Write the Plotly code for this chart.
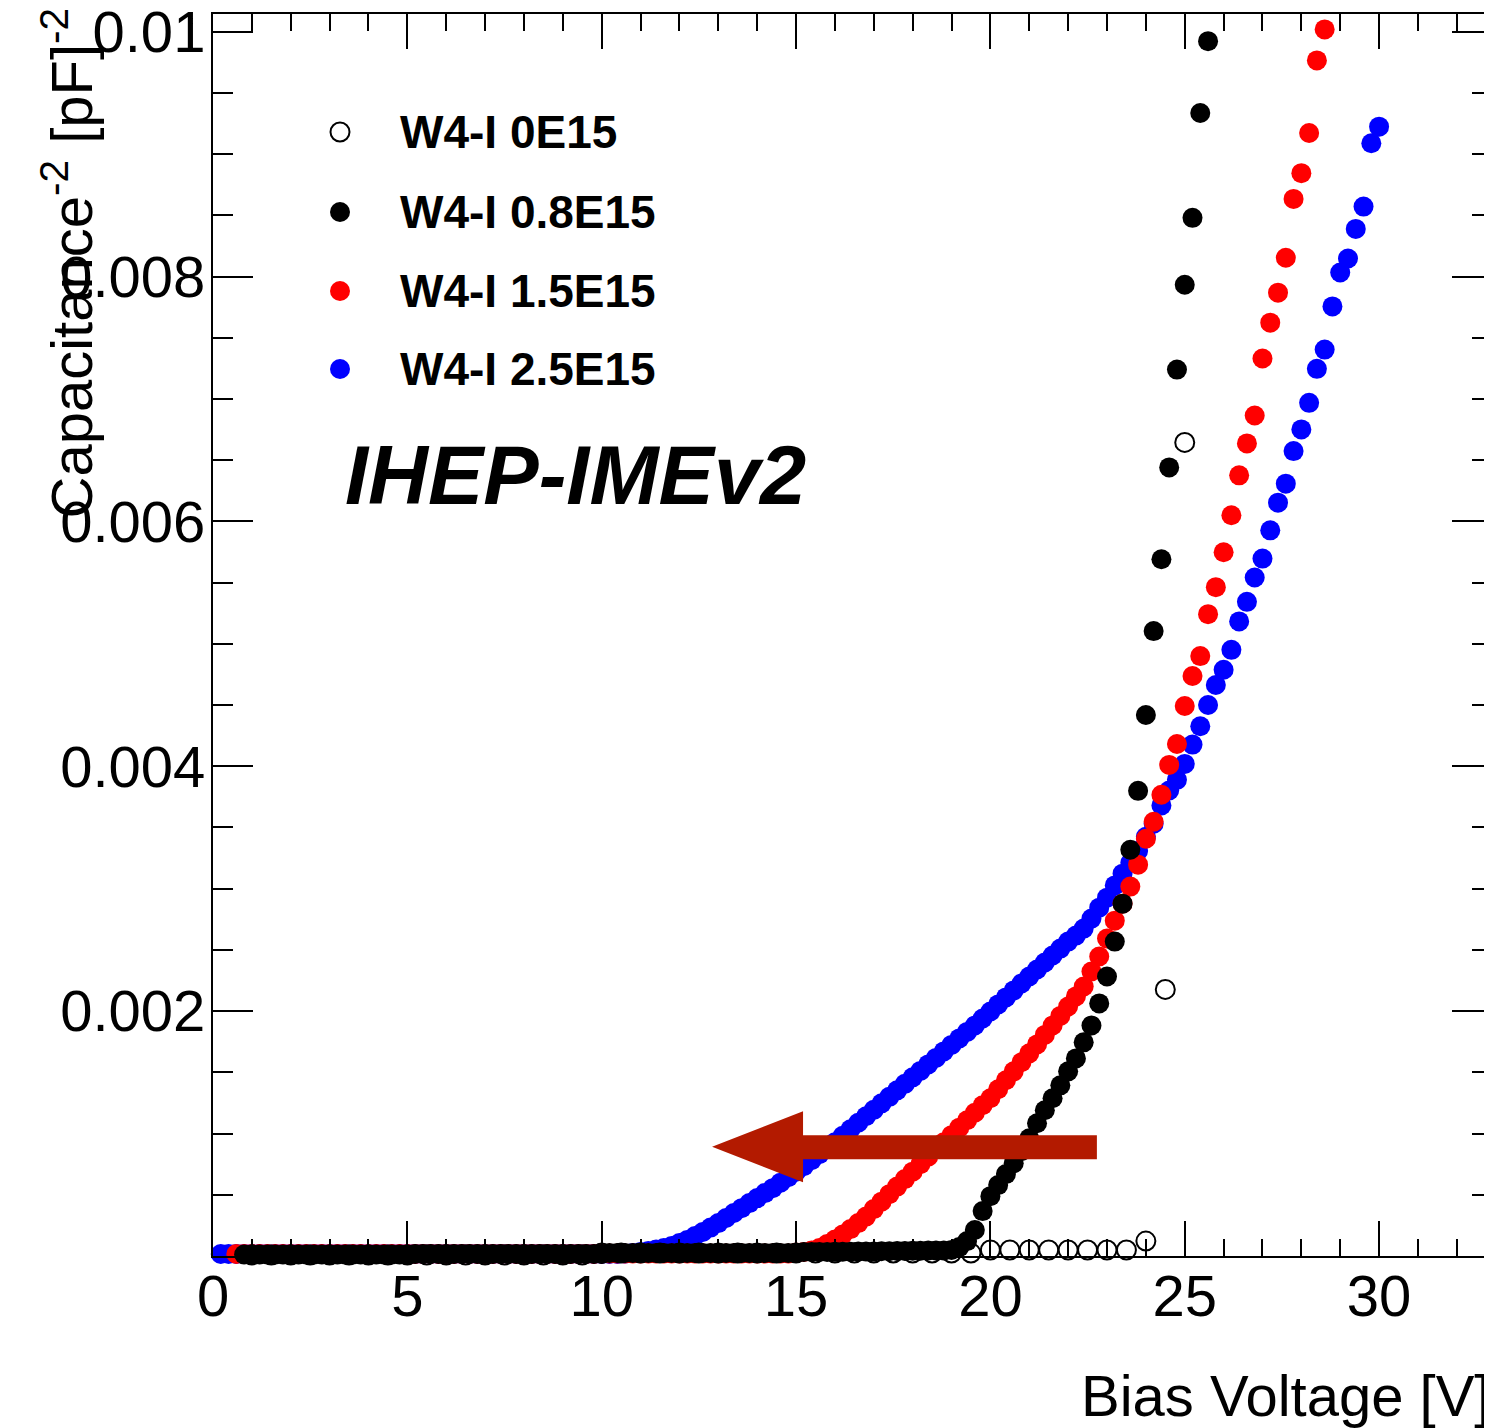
import plotly.graph_objects as go

# ---------------- data ----------------
series_names = ["W4-I 0E15", "W4-I 0.8E15", "W4-I 1.5E15", "W4-I 2.5E15"]

# W4-I 0E15 (open circles), 0.5 V steps
v_0E15 = [1.0, 1.5, 2.0, 2.5, 3.0, 3.5, 4.0, 4.5, 5.0, 5.5,
          6.0, 6.5, 7.0, 7.5, 8.0, 8.5, 9.0, 9.5, 10.0, 10.5,
          11.0, 11.5, 12.0, 12.5, 13.0, 13.5, 14.0, 14.5, 15.0, 15.5,
          16.0, 16.5, 17.0, 17.5, 18.0, 18.5, 19.0, 19.5, 20.0, 20.5,
          21.0, 21.5, 22.0, 22.5, 23.0, 23.5, 24.0, 24.5, 25.0]
c_0E15 = [8e-6, 8e-6, 8e-6, 8e-6, 8e-6, 8e-6, 8e-6, 8e-6, 8e-6, 8e-6,
          8e-6, 8e-6, 8e-6, 8e-6, 8e-6, 8e-6, 8e-6, 8e-6, 2.4e-5, 2.4e-5,
          2.4e-5, 2.4e-5, 2.4e-5, 2.4e-5, 2.4e-5, 2.4e-5, 2.4e-5, 2.4e-5, 2.4e-5, 2.4e-5,
          2.4e-5, 2.4e-5, 2.4e-5, 2.4e-5, 2.4e-5, 2.4e-5, 2.4e-5, 2.4e-5, 4.9e-5, 4.9e-5,
          4.9e-5, 4.9e-5, 4.9e-5, 4.9e-5, 4.9e-5, 4.9e-5, 1.22e-4, 2.177e-3, 6.645e-3]

# W4-I 0.8E15 (black), 0.2 V steps
v_08E15 = [0.8, 1.0, 1.2, 1.4, 1.6, 1.8, 2.0, 2.2, 2.4, 2.6,
           2.8, 3.0, 3.2, 3.4, 3.6, 3.8, 4.0, 4.2, 4.4, 4.6,
           4.8, 5.0, 5.2, 5.4, 5.6, 5.8, 6.0, 6.2, 6.4, 6.6,
           6.8, 7.0, 7.2, 7.4, 7.6, 7.8, 8.0, 8.2, 8.4, 8.6,
           8.8, 9.0, 9.2, 9.4, 9.6, 9.8, 10.0, 10.2, 10.4, 10.6,
           10.8, 11.0, 11.2, 11.4, 11.6, 11.8, 12.0, 12.2, 12.4, 12.6,
           12.8, 13.0, 13.2, 13.4, 13.6, 13.8, 14.0, 14.2, 14.4, 14.6,
           14.8, 15.0, 15.2, 15.4, 15.6, 15.8, 16.0, 16.2, 16.4, 16.6,
           16.8, 17.0, 17.2, 17.4, 17.6, 17.8, 18.0, 18.2, 18.4, 18.6,
           18.8, 19.0, 19.2, 19.4, 19.6, 19.8, 20.0, 20.2, 20.4, 20.6,
           20.8, 21.0, 21.2, 21.4, 21.6, 21.8, 22.0, 22.2, 22.4, 22.6,
           22.8, 23.0, 23.2, 23.4, 23.6, 23.8, 24.0, 24.2, 24.4, 24.6,
           24.8, 25.0, 25.2, 25.4, 25.6]
c_08E15 = [1.2e-5, 1.2e-5, 1.2e-5, 1.2e-5, 1.2e-5, 1.2e-5, 1.2e-5, 1.2e-5, 1.2e-5, 1.2e-5,
           1.2e-5, 1.2e-5, 1.2e-5, 1.2e-5, 1.2e-5, 1.2e-5, 1.2e-5, 1.2e-5, 1.2e-5, 1.2e-5,
           1.2e-5, 1.2e-5, 1.6e-5, 1.6e-5, 1.6e-5, 1.6e-5, 1.6e-5, 1.6e-5, 1.6e-5, 1.6e-5,
           1.6e-5, 1.6e-5, 1.6e-5, 1.6e-5, 1.6e-5, 1.6e-5, 1.6e-5, 1.6e-5, 1.6e-5, 1.6e-5,
           1.6e-5, 1.6e-5, 1.6e-5, 1.6e-5, 1.6e-5, 1.6e-5, 1.6e-5, 2.4e-5, 2.4e-5, 2.4e-5,
           2.4e-5, 2.4e-5, 2.4e-5, 2.4e-5, 2.4e-5, 2.4e-5, 2.4e-5, 2.4e-5, 2.4e-5, 2.4e-5,
           2.4e-5, 2.4e-5, 2.4e-5, 2.4e-5, 2.4e-5, 2.4e-5, 2.4e-5, 2.4e-5, 2.4e-5, 2.4e-5,
           2.4e-5, 2.4e-5, 3.3e-5, 3.3e-5, 3.3e-5, 3.3e-5, 3.5e-5, 3.5e-5, 3.5e-5, 3.7e-5,
           3.7e-5, 3.7e-5, 3.9e-5, 3.9e-5, 4.1e-5, 4.1e-5, 4.3e-5, 4.3e-5, 4.5e-5, 4.5e-5,
           4.5e-5, 4.9e-5, 7.3e-5, 1.22e-4, 2.12e-4, 3.67e-4, 4.89e-4, 5.79e-4, 6.69e-4, 7.58e-4,
           8.56e-4, 9.62e-4, 1.084e-3, 1.190e-3, 1.288e-3, 1.394e-3, 1.508e-3, 1.614e-3, 1.745e-3, 1.883e-3,
           2.063e-3, 2.283e-3, 2.568e-3, 2.878e-3, 3.318e-3, 3.799e-3, 4.419e-3, 5.104e-3, 5.691e-3, 6.441e-3,
           7.240e-3, 7.933e-3, 8.479e-3, 9.335e-3, 9.922e-3]

# W4-I 1.5E15 (red), 0.2 V steps
v_15E15 = [0.6, 0.8, 1.0, 1.2, 1.4, 1.6, 1.8, 2.0, 2.2, 2.4,
           2.6, 2.8, 3.0, 3.2, 3.4, 3.6, 3.8, 4.0, 4.2, 4.4,
           4.6, 4.8, 5.0, 5.2, 5.4, 5.6, 5.8, 6.0, 6.2, 6.4,
           6.6, 6.8, 7.0, 7.2, 7.4, 7.6, 7.8, 8.0, 8.2, 8.4,
           8.6, 8.8, 9.0, 9.2, 9.4, 9.6, 9.8, 10.0, 10.2, 10.4,
           10.6, 10.8, 11.0, 11.2, 11.4, 11.6, 11.8, 12.0, 12.2, 12.4,
           12.6, 12.8, 13.0, 13.2, 13.4, 13.6, 13.8, 14.0, 14.2, 14.4,
           14.6, 14.8, 15.0, 15.2, 15.4, 15.6, 15.8, 16.0, 16.2, 16.4,
           16.6, 16.8, 17.0, 17.2, 17.4, 17.6, 17.8, 18.0, 18.2, 18.4,
           18.6, 18.8, 19.0, 19.2, 19.4, 19.6, 19.8, 20.0, 20.2, 20.4,
           20.6, 20.8, 21.0, 21.2, 21.4, 21.6, 21.8, 22.0, 22.2, 22.4,
           22.6, 22.8, 23.0, 23.2, 23.4, 23.6, 23.8, 24.0, 24.2, 24.4,
           24.6, 24.8, 25.0, 25.2, 25.4, 25.6, 25.8, 26.0, 26.2, 26.4,
           26.6, 26.8, 27.0, 27.2, 27.4, 27.6, 27.8, 28.0, 28.2, 28.4,
           28.6]
c_15E15 = [1.6e-5, 1.6e-5, 1.6e-5, 1.6e-5, 1.6e-5, 1.6e-5, 1.6e-5, 1.6e-5, 1.6e-5, 1.6e-5,
           1.6e-5, 1.6e-5, 1.6e-5, 1.6e-5, 1.6e-5, 1.6e-5, 1.6e-5, 1.6e-5, 1.6e-5, 1.6e-5,
           1.6e-5, 1.6e-5, 1.6e-5, 1.6e-5, 1.6e-5, 1.6e-5, 1.6e-5, 1.6e-5, 1.6e-5, 1.6e-5,
           1.6e-5, 1.6e-5, 1.6e-5, 1.6e-5, 1.6e-5, 1.6e-5, 1.6e-5, 1.6e-5, 1.6e-5, 1.6e-5,
           1.6e-5, 1.6e-5, 1.6e-5, 1.6e-5, 1.6e-5, 1.6e-5, 1.6e-5, 2.0e-5, 2.0e-5, 2.0e-5,
           2.0e-5, 2.0e-5, 2.0e-5, 2.0e-5, 2.0e-5, 2.0e-5, 2.0e-5, 2.0e-5, 2.0e-5, 2.0e-5,
           2.0e-5, 2.0e-5, 2.0e-5, 2.0e-5, 2.0e-5, 2.0e-5, 2.0e-5, 2.0e-5, 2.0e-5, 2.0e-5,
           2.0e-5, 2.0e-5, 2.9e-5, 3.3e-5, 4.5e-5, 6.5e-5, 9.8e-5, 1.35e-4, 1.75e-4, 2.20e-4,
           2.69e-4, 3.22e-4, 3.83e-4, 4.44e-4, 5.05e-4, 5.67e-4, 6.28e-4, 6.89e-4, 7.50e-4, 8.11e-4,
           8.72e-4, 9.29e-4, 9.87e-4, 1.048e-3, 1.109e-3, 1.170e-3, 1.231e-3, 1.288e-3, 1.362e-3, 1.435e-3,
           1.508e-3, 1.582e-3, 1.655e-3, 1.728e-3, 1.806e-3, 1.883e-3, 1.961e-3, 2.038e-3, 2.120e-3, 2.201e-3,
           2.324e-3, 2.446e-3, 2.593e-3, 2.739e-3, 2.878e-3, 3.017e-3, 3.196e-3, 3.408e-3, 3.547e-3, 3.767e-3,
           4.011e-3, 4.182e-3, 4.492e-3, 4.737e-3, 4.900e-3, 5.242e-3, 5.463e-3, 5.748e-3, 6.050e-3, 6.376e-3,
           6.637e-3, 6.865e-3, 7.330e-3, 7.623e-3, 7.868e-3, 8.153e-3, 8.634e-3, 8.844e-3, 9.172e-3, 9.765e-3,
           1.0018e-2]

# W4-I 2.5E15 (blue), 0.2 V steps
v_25E15 = [0.2, 0.4, 0.6, 0.8, 1.0, 1.2, 1.4, 1.6, 1.8, 2.0,
           2.2, 2.4, 2.6, 2.8, 3.0, 3.2, 3.4, 3.6, 3.8, 4.0,
           4.2, 4.4, 4.6, 4.8, 5.0, 5.2, 5.4, 5.6, 5.8, 6.0,
           6.2, 6.4, 6.6, 6.8, 7.0, 7.2, 7.4, 7.6, 7.8, 8.0,
           8.2, 8.4, 8.6, 8.8, 9.0, 9.2, 9.4, 9.6, 9.8, 10.0,
           10.2, 10.4, 10.6, 10.8, 11.0, 11.2, 11.4, 11.6, 11.8, 12.0,
           12.2, 12.4, 12.6, 12.8, 13.0, 13.2, 13.4, 13.6, 13.8, 14.0,
           14.2, 14.4, 14.6, 14.8, 15.0, 15.2, 15.4, 15.6, 15.8, 16.0,
           16.2, 16.4, 16.6, 16.8, 17.0, 17.2, 17.4, 17.6, 17.8, 18.0,
           18.2, 18.4, 18.6, 18.8, 19.0, 19.2, 19.4, 19.6, 19.8, 20.0,
           20.2, 20.4, 20.6, 20.8, 21.0, 21.2, 21.4, 21.6, 21.8, 22.0,
           22.2, 22.4, 22.6, 22.8, 23.0, 23.2, 23.4, 23.6, 23.8, 24.0,
           24.2, 24.4, 24.6, 24.8, 25.0, 25.2, 25.4, 25.6, 25.8, 26.0,
           26.2, 26.4, 26.6, 26.8, 27.0, 27.2, 27.4, 27.6, 27.8, 28.0,
           28.2, 28.4, 28.6, 28.8, 29.0, 29.2, 29.4, 29.6, 29.8, 30.0]
c_25E15 = [1.6e-5, 1.6e-5, 1.6e-5, 1.6e-5, 1.6e-5, 1.6e-5, 1.6e-5, 1.6e-5, 1.6e-5, 1.6e-5,
           1.6e-5, 1.6e-5, 1.6e-5, 1.6e-5, 1.6e-5, 1.6e-5, 1.6e-5, 1.6e-5, 1.6e-5, 1.6e-5,
           1.6e-5, 1.6e-5, 1.6e-5, 1.6e-5, 1.6e-5, 1.6e-5, 1.6e-5, 1.6e-5, 1.6e-5, 1.6e-5,
           1.6e-5, 1.6e-5, 1.6e-5, 1.6e-5, 1.6e-5, 1.6e-5, 1.6e-5, 1.6e-5, 1.6e-5, 1.6e-5,
           1.6e-5, 1.6e-5, 1.6e-5, 1.6e-5, 1.6e-5, 1.6e-5, 1.6e-5, 1.6e-5, 1.6e-5, 1.6e-5,
           1.6e-5, 1.6e-5, 2.0e-5, 2.4e-5, 3.3e-5, 4.1e-5, 5.3e-5, 6.5e-5, 8.2e-5, 1.06e-4,
           1.30e-4, 1.63e-4, 1.96e-4, 2.32e-4, 2.69e-4, 3.10e-4, 3.51e-4, 3.91e-4, 4.32e-4, 4.73e-4,
           5.14e-4, 5.54e-4, 5.99e-4, 6.44e-4, 6.89e-4, 7.34e-4, 7.83e-4, 8.32e-4, 8.81e-4, 9.29e-4,
           9.82e-4, 1.035e-3, 1.088e-3, 1.141e-3, 1.194e-3, 1.247e-3, 1.300e-3, 1.353e-3, 1.406e-3, 1.459e-3,
           1.512e-3, 1.565e-3, 1.618e-3, 1.671e-3, 1.724e-3, 1.777e-3, 1.830e-3, 1.883e-3, 1.940e-3, 1.997e-3,
           2.055e-3, 2.112e-3, 2.169e-3, 2.226e-3, 2.283e-3, 2.340e-3, 2.397e-3, 2.454e-3, 2.511e-3, 2.568e-3,
           2.617e-3, 2.674e-3, 2.756e-3, 2.845e-3, 2.927e-3, 3.027e-3, 3.123e-3, 3.212e-3, 3.310e-3, 3.424e-3,
           3.530e-3, 3.680e-3, 3.802e-3, 3.889e-3, 4.019e-3, 4.177e-3, 4.327e-3, 4.500e-3, 4.664e-3, 4.788e-3,
           4.951e-3, 5.183e-3, 5.343e-3, 5.542e-3, 5.696e-3, 5.927e-3, 6.153e-3, 6.308e-3, 6.574e-3, 6.751e-3,
           6.968e-3, 7.246e-3, 7.403e-3, 7.756e-3, 8.033e-3, 8.147e-3, 8.389e-3, 8.571e-3, 9.088e-3, 9.224e-3]

x_tick_vals = [0, 5, 10, 15, 20, 25, 30]
x_tick_text = ["0", "5", "10", "15", "20", "25", "30"]
y_tick_vals = [0.002, 0.004, 0.006, 0.008, 0.01]
y_tick_text = ["0.002", "0.004", "0.006", "0.008", "0.01"]

# arrow annotation outline (in axis units: V, pF^-2)
arrow_v = [22.74, 15.18, 15.18, 12.84, 15.18, 15.18, 22.74]
arrow_c = [9.87e-4, 9.87e-4, 1.182e-3, 8.93e-4, 6.03e-4, 7.91e-4, 7.91e-4]

assert len(v_0E15) == len(c_0E15)
assert len(v_08E15) == len(c_08E15)
assert len(v_15E15) == len(c_15E15)
assert len(v_25E15) == len(c_25E15)

# ---------------- figure ----------------
# the page body adds an 8 px margin, so the figure is 8 px smaller and
# all reference pixel positions are shifted by OFF
OFF = 8
W, H = 1484, 1420
ML, MR, MT, MB = 205, 0, 6, 172
PW, PH = W - ML - MR, H - MT - MB
X_RANGE = [0, 32.905]
Y_RANGE = [0, 0.010144]
FONT = "Liberation Sans, Arial, Helvetica, sans-serif"


def px_x(p):
    return (p - OFF - ML) / PW


def px_y(p):
    return (H - MB - (p - OFF)) / PH


fig = go.Figure()

marker_size = 20
fig.add_trace(go.Scatter(x=v_25E15, y=c_25E15, mode="markers", name=series_names[3],
                         marker=dict(color="#0000FF", size=marker_size, line=dict(width=0)),
                         cliponaxis=False))
fig.add_trace(go.Scatter(x=v_15E15, y=c_15E15, mode="markers", name=series_names[2],
                         marker=dict(color="#FF0000", size=marker_size, line=dict(width=0)),
                         cliponaxis=False))
fig.add_trace(go.Scatter(x=v_0E15, y=c_0E15, mode="markers", name=series_names[0],
                         marker=dict(symbol="circle-open", color="black", size=19,
                                     line=dict(width=2, color="black")),
                         cliponaxis=False))
fig.add_trace(go.Scatter(x=v_08E15, y=c_08E15, mode="markers", name=series_names[1],
                         marker=dict(color="black", size=marker_size, line=dict(width=0)),
                         cliponaxis=False))
# mirror axes (top / right) for ROOT-style frame
fig.add_trace(go.Scatter(x=[None], y=[None], xaxis="x2", yaxis="y2",
                         showlegend=False, hoverinfo="skip"))

# arrow shape
path = "M " + " L ".join(f"{a},{b}" for a, b in zip(arrow_v, arrow_c)) + " Z"
fig.add_shape(type="path", path=path, xref="x", yref="y",
              fillcolor="#B31A00", line=dict(width=0), layer="above")

axis_common = dict(showgrid=False, zeroline=False, showline=True, linewidth=2,
                   linecolor="black", ticks="inside", tickwidth=2, tickcolor="black",
                   automargin=False)

fig.update_layout(
    width=W, height=H,
    margin=dict(l=ML, r=MR, t=MT, b=MB, pad=0, autoexpand=False),
    plot_bgcolor="white", paper_bgcolor="white",
    showlegend=False,
    font=dict(family=FONT, size=58, color="black"),
    xaxis=dict(range=X_RANGE, tickmode="array", tickvals=x_tick_vals, ticktext=x_tick_text,
               ticklen=35, tickfont=dict(size=58), ticklabelstandoff=-12,
               ticklabeloverflow="allow",
               minor=dict(tickmode="linear", tick0=0, dtick=1, ticklen=17, ticks="inside",
                          tickwidth=2, tickcolor="black", showgrid=False),
               **axis_common),
    yaxis=dict(range=Y_RANGE, tickmode="array", tickvals=y_tick_vals, ticktext=y_tick_text,
               ticklen=40, tickfont=dict(size=58), ticklabelstandoff=-6,
               ticklabeloverflow="allow",
               minor=dict(tickmode="linear", tick0=0, dtick=0.0005, ticklen=20, ticks="inside",
                          tickwidth=2, tickcolor="black", showgrid=False),
               **axis_common),
    xaxis2=dict(range=X_RANGE, overlaying="x", side="top", anchor="y2",
                tickmode="array", tickvals=x_tick_vals, showticklabels=False, ticklen=35,
                minor=dict(tickmode="linear", tick0=0, dtick=1, ticklen=17, ticks="inside",
                           tickwidth=2, tickcolor="black", showgrid=False),
                **axis_common),
    yaxis2=dict(range=Y_RANGE, overlaying="y", side="right", anchor="x2",
                tickmode="array", tickvals=y_tick_vals, showticklabels=False, ticklen=40,
                minor=dict(tickmode="linear", tick0=0, dtick=0.0005, ticklen=20, ticks="inside",
                           tickwidth=2, tickcolor="black", showgrid=False),
                **axis_common),
)

# axis titles (ROOT style placement)
fig.add_annotation(text="Bias Voltage [V]", xref="paper", yref="paper",
                   x=px_x(1492), y=px_y(1395), xanchor="right", yanchor="middle",
                   showarrow=False, font=dict(family=FONT, size=58, color="black"))
fig.add_annotation(text="Capacitance<sup>-2</sup> [pF]<sup>-2</sup>", xref="paper", yref="paper",
                   x=px_x(67), y=px_y(6), xanchor="center", yanchor="top", textangle=-90,
                   showarrow=False, font=dict(family=FONT, size=58, color="black"))

# experiment label
fig.add_annotation(text="<b><i>IHEP-IMEv2</i></b>", xref="paper", yref="paper",
                   x=px_x(343), y=px_y(475), xanchor="left", yanchor="middle",
                   showarrow=False, font=dict(family=FONT, size=83, color="black"))

# legend (manual, ROOT TLegend style)
legend_rows = [132, 212, 291, 369]
legend_style = [("circle-open", "black"), ("circle", "black"), ("circle", "#FF0000"), ("circle", "#0000FF")]
for name, row, (sym, col) in zip(series_names, legend_rows, legend_style):
    if sym == "circle-open":
        fig.add_shape(type="circle", xref="paper", yref="paper", xsizemode="pixel", ysizemode="pixel",
                      xanchor=px_x(340), yanchor=px_y(row), x0=-9.5, x1=9.5, y0=-9.5, y1=9.5,
                      line=dict(color="black", width=2), fillcolor="rgba(0,0,0,0)")
    else:
        fig.add_shape(type="circle", xref="paper", yref="paper", xsizemode="pixel", ysizemode="pixel",
                      xanchor=px_x(340), yanchor=px_y(row), x0=-10, x1=10, y0=-10, y1=10,
                      line=dict(width=0), fillcolor=col)
    fig.add_annotation(text=f"<b>{name}</b>", xref="paper", yref="paper",
                       x=px_x(398), y=px_y(row), xanchor="left", yanchor="middle",
                       showarrow=False, font=dict(family=FONT, size=46, color="black"))

fig.write_html("out.html")
